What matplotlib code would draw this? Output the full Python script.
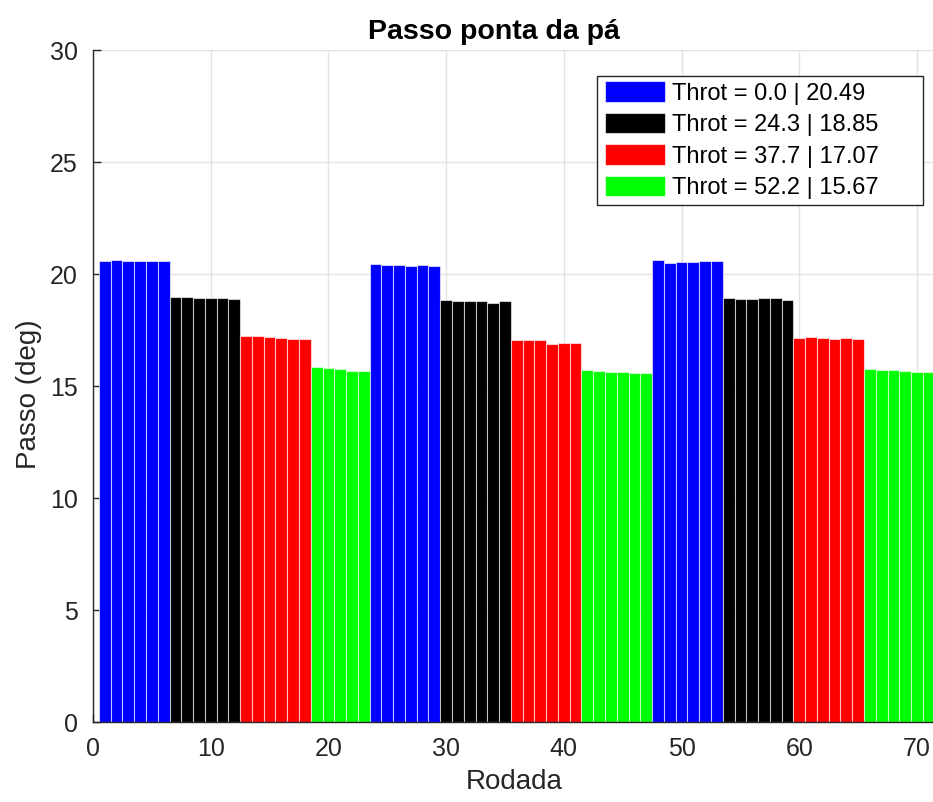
import matplotlib
matplotlib.use("Agg")
import matplotlib.pyplot as plt
from matplotlib.patches import Rectangle
import numpy as np

plt.rcParams['font.family'] = ['Liberation Sans', 'DejaVu Sans']

# niveis de throttle, media do passo e cor de cada serie
throt = [0.0, 24.3, 37.7, 52.2]
media = [20.49, 18.85, 17.07, 15.67]
cores = ['#0000ff', '#000000', '#ff0000', '#00ff00']

# ordem dos blocos (indice do throttle) e valores de passo de cada bloco
blocos = [0, 1, 2, 3, 0, 1, 2, 3, 0, 1, 2, 3]
passo = [
    [20.58, 20.61, 20.58, 20.57, 20.58, 20.56],
    [18.96, 18.96, 18.91, 18.91, 18.91, 18.88],
    [17.22, 17.22, 17.17, 17.13, 17.08, 17.11],
    [15.83, 15.79, 15.76, 15.68, 15.67],
    [20.45, 20.40, 20.40, 20.37, 20.39, 20.37],
    [18.84, 18.81, 18.78, 18.78, 18.72, 18.78],
    [17.05, 17.05, 17.04, 16.86, 16.92, 16.92],
    [15.71, 15.67, 15.63, 15.63, 15.58, 15.58],
    [20.61, 20.51, 20.54, 20.54, 20.57, 20.58],
    [18.94, 18.87, 18.88, 18.93, 18.91, 18.82],
    [17.13, 17.20, 17.13, 17.08, 17.13, 17.08],
    [15.76, 15.71, 15.70, 15.67, 15.64, 15.64],
]

W, H = 933, 802
fig = plt.figure(figsize=(W / 100, H / 100), dpi=100)
# eixo passa um pouco da borda direita, como no original
ax = fig.add_axes([93 / W, 80 / H, 847.5 / W, 672 / H])

handles = {}
rodada = 1
for k, vals in zip(blocos, passo):
    x = np.arange(rodada, rodada + len(vals))
    b = ax.bar(x, vals, width=1.0, color=cores[k],
               edgecolor=(1, 1, 1, 0.6), linewidth=0.8, zorder=2)
    handles.setdefault(k, b)
    rodada += len(vals)

ax.set_xlim(0, 72)
ax.set_ylim(0, 30)
ax.set_xticks(np.arange(0, 71, 10))
ax.set_yticks(np.arange(0, 31, 5))
ax.grid(True, color='#e3e3e3', linewidth=1.0, zorder=0)
ax.set_axisbelow(True)

for s in ['top', 'right']:
    ax.spines[s].set_visible(False)
for s in ['left', 'bottom']:
    ax.spines[s].set_color('#262626')
    ax.spines[s].set_linewidth(1.0)
    ax.spines[s].set_zorder(3)
ax.tick_params(direction='in', length=6, width=1.0, color='#262626',
               labelsize=18, labelcolor='#262626', pad=11)

ax.set_title("Passo ponta da pá", fontsize=20.5, fontweight='bold', pad=8,
             x=(494 - 93) / 847.5)
ax.set_xlabel("Rodada", fontsize=20, color='#262626')
ax.xaxis.set_label_coords((514 - 93) / 847.5, -0.07)
ax.set_ylabel("Passo (deg)", fontsize=20, color='#262626')
ax.yaxis.set_label_coords(-0.06, (722 - 394) / 672)

labels = [f"Throt = {t:.1f} | {m:.2f}" for t, m in zip(throt, media)]
leg = ax.legend([handles[k] for k in range(4)], labels, loc='upper left',
                bbox_to_anchor=(605 / W, 1 - 81 / H),
                bbox_transform=fig.transFigure, borderaxespad=0,
                fontsize=17, handlelength=2.54, handleheight=0.98,
                handletextpad=0.28, labelspacing=0.34, borderpad=0,
                frameon=False)

# moldura da legenda (mais larga que o texto, estilo MATLAB)
ax.add_patch(Rectangle((597 / W, 1 - 205 / H), 326 / W, 129.3 / H,
                       transform=fig.transFigure, facecolor='white',
                       edgecolor='#262626', linewidth=1.0, zorder=4,
                       clip_on=False))

plt.savefig('out.png', dpi=100)
